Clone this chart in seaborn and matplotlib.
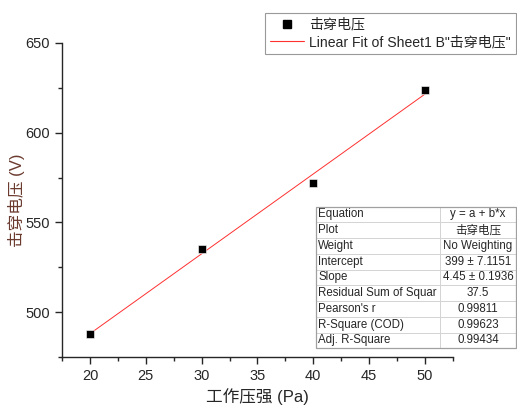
import numpy as np
import pandas as pd
import matplotlib
matplotlib.use("Agg")
import matplotlib.pyplot as plt
from matplotlib.lines import Line2D
from matplotlib.ticker import MultipleLocator
import seaborn as sns

# data
pressure = [20, 30, 40, 50]
breakdown_voltage = [488, 535, 572, 624]

table_keys = ["Equation", "Plot", "Weight", "Intercept", "Slope",
              "Residual Sum of Squar", "Pearson's r", "R-Square (COD)", "Adj. R-Square"]
table_vals = ["y = a + b*x", "击穿电压", "No Weighting", "399 ± 7.1151", "4.45 ± 0.1936",
              "37.5", "0.99811", "0.99623", "0.99434"]

sns.set_style("ticks")
plt.rcParams['font.family'] = ['Liberation Sans', 'Noto Sans CJK SC', 'DejaVu Sans']

df = pd.DataFrame({"x": pressure, "y": breakdown_voltage})
b, a = np.polyfit(df["x"], df["y"], 1)
df["fit"] = a + b * df["x"]

fig = plt.figure(figsize=(5.17, 4.05), dpi=100)
ax = fig.add_axes([0.12, 0.1185, 0.756, 0.7755])

fit_color = "#ff3030"
sns.lineplot(data=df, x="x", y="fit", ax=ax, color=fit_color, linewidth=0.7,
             legend=False, zorder=2)
sns.scatterplot(data=df, x="x", y="y", ax=ax, marker="s", color="black", s=32,
                edgecolor="white", linewidth=0.4, legend=False, zorder=3)

ax.set_xlim(17.5, 52.5)
ax.set_ylim(475, 650)
ax.xaxis.set_major_locator(MultipleLocator(5))
ax.xaxis.set_minor_locator(MultipleLocator(2.5))
ax.yaxis.set_major_locator(MultipleLocator(50))
ax.yaxis.set_minor_locator(MultipleLocator(25))
ax.tick_params(which="major", direction="out", length=5, width=1, labelsize=10.5)
ax.tick_params(which="minor", direction="out", length=3, width=1)
sns.despine(ax=ax)
for s in ["left", "bottom"]:
    ax.spines[s].set_linewidth(1)

ax.set_xlabel("工作压强 (Pa)", fontsize=12, labelpad=4)
ax.set_ylabel("击穿电压 (V)", fontsize=12, color="#6b3a2e")
ax.yaxis.set_label_coords(-0.095, 0.5)

handles = [
    Line2D([], [], marker="s", color="black", linestyle="none", markersize=6),
    Line2D([], [], color=fit_color, linewidth=0.8),
]
labels = ["击穿电压", 'Linear Fit of Sheet1 B"击穿电压"']
leg = ax.legend(handles, labels, loc="upper right",
                bbox_to_anchor=(0.998, 0.968), bbox_transform=fig.transFigure,
                borderaxespad=0, fontsize=10.1, frameon=True, fancybox=False,
                borderpad=0.35, handlelength=2.4, handletextpad=0.4, labelspacing=0.25)
leg.get_frame().set_edgecolor("#808080")
leg.get_frame().set_linewidth(0.8)

# fit statistics table
tax = fig.add_axes([0.611, 0.14, 0.387, 0.35])
tax.axis("off")
tbl = tax.table(cellText=[[k, v] for k, v in zip(table_keys, table_vals)],
                colWidths=[0.62, 0.38], bbox=[0, 0, 1, 1])
tbl.auto_set_font_size(False)
for (r, c), cell in tbl.get_celld().items():
    cell.set_edgecolor("#d0d0d0")
    cell.set_linewidth(0.6)
    cell.get_text().set_fontsize(8.3)
    cell.set_facecolor("white")
    if c == 0:
        cell.get_text().set_ha("left")
        cell.PAD = 0.02
    else:
        cell.get_text().set_ha("center")
tax.add_patch(plt.Rectangle((0, 0), 1, 1, fill=False, edgecolor="#a0a0a0",
                            linewidth=0.9, transform=tax.transAxes, clip_on=False))

fig.savefig("out.png", dpi=100)
